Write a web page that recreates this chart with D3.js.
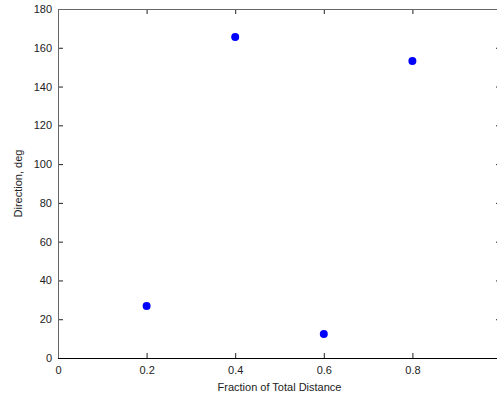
<!DOCTYPE html>
<html>
<head>
<meta charset="utf-8">
<script src="https://cdn.jsdelivr.net/npm/d3@7"></script>
<style>
  body { margin: 0; background: #fff; }
  svg { display: block; font-family: "Liberation Sans", Arial, sans-serif; }
</style>
</head>
<body>
<script>
// values
const fraction = [0.2, 0.4, 0.6, 0.8];
const direction = [26.8, 165.6, 12.4, 153.2];
const xTicks = [0, 0.2, 0.4, 0.6, 0.8];
const yTicks = [0, 20, 40, 60, 80, 100, 120, 140, 160, 180];

const width = 497;
const height = 400;
// plot box edges (window.top is taken, so prefix them)
const boxLeft = 58, boxTop = 9, boxRight = 501, boxBottom = 358;

const x = d3.scaleLinear().domain([0, 1]).range([boxLeft, boxRight]);
const y = d3.scaleLinear().domain([0, 180]).range([boxBottom, boxTop]);

const svg = d3.select('body').append('svg')
  .attr('width', width)
  .attr('height', height);

// inward ticks, matlab style
const tickLen = 5;

const xAxis = svg.append('g')
  .attr('transform', `translate(0,${boxBottom})`)
  .call(d3.axisBottom(x).tickValues(xTicks).tickSize(-tickLen).tickPadding(8)
    .tickFormat(d3.format('')));
xAxis.select('.domain').remove();

const xAxisTop = svg.append('g')
  .attr('transform', `translate(0,${boxTop})`)
  .call(d3.axisTop(x).tickValues(xTicks.slice(1)).tickSize(-tickLen).tickFormat(''));
xAxisTop.select('.domain').remove();

const yAxis = svg.append('g')
  .attr('transform', `translate(${boxLeft},0)`)
  .call(d3.axisLeft(y).tickValues(yTicks).tickSize(-tickLen).tickPadding(6));
yAxis.select('.domain').remove();

const yAxisRight = svg.append('g')
  .attr('transform', `translate(${boxRight},0)`)
  .call(d3.axisRight(y).tickValues(yTicks.slice(1, -1)).tickSize(-tickLen).tickFormat(''));
yAxisRight.select('.domain').remove();

svg.selectAll('.tick text')
  .attr('font-size', 11)
  .attr('font-family', '"Liberation Sans", Arial, sans-serif')
  .attr('fill', '#222');
svg.selectAll('.tick line').attr('stroke', '#222');

// axes box
const box = svg.append('g').attr('fill', 'none').attr('shape-rendering', 'crispEdges');
box.append('line').attr('x1', boxLeft).attr('x2', boxRight).attr('y1', boxTop).attr('y2', boxTop).attr('stroke', '#666');
box.append('line').attr('x1', boxLeft).attr('x2', boxLeft).attr('y1', boxTop).attr('y2', boxBottom).attr('stroke', '#666');
box.append('line').attr('x1', boxLeft).attr('x2', boxRight).attr('y1', boxBottom).attr('y2', boxBottom).attr('stroke', '#000');
box.append('line').attr('x1', boxRight).attr('x2', boxRight).attr('y1', boxTop).attr('y2', boxBottom).attr('stroke', '#666');

// points
svg.append('g')
  .selectAll('circle')
  .data(fraction)
  .join('circle')
  .attr('cx', (d) => x(d))
  .attr('cy', (d, i) => y(direction[i]))
  .attr('r', 4)
  .attr('fill', '#0000ff');

// labels
svg.append('text')
  .attr('x', (boxLeft + boxRight) / 2)
  .attr('y', 391)
  .attr('text-anchor', 'middle')
  .attr('font-size', 11)
  .attr('fill', '#222')
  .text('Fraction of Total Distance');

svg.append('text')
  .attr('transform', `translate(22,${(boxTop + boxBottom) / 2}) rotate(-90)`)
  .attr('text-anchor', 'middle')
  .attr('font-size', 11)
  .attr('fill', '#222')
  .text('Direction, deg');
</script>
</body>
</html>
